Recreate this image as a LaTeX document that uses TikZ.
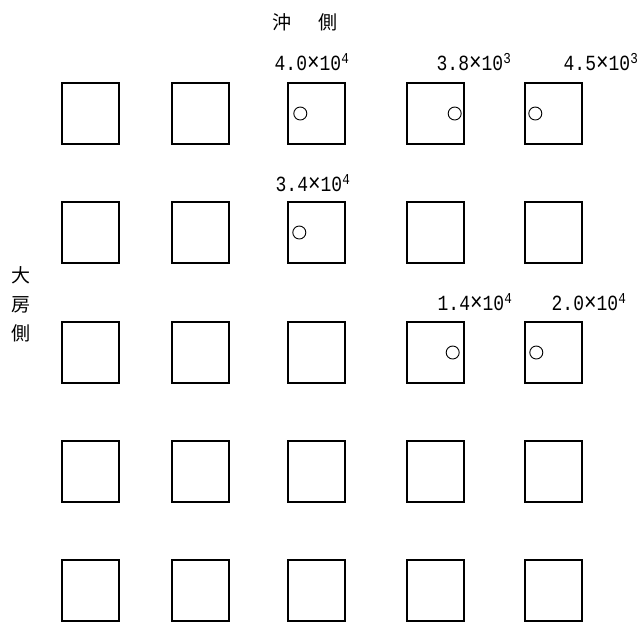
\documentclass[tikz,border=0pt]{standalone}
\usepackage{fontspec}
\usepackage{tikz}
\usetikzlibrary{positioning}
\setmonofont{Liberation Mono}
\newfontfamily\jpfont{Noto Sans CJK JP}
\newcommand{\cnt}[2]{\scalebox{1}[1.2]{#1{\fontsize{21}{21}\selectfont×}10\textsuperscript{#2}}}

\begin{document}
\begin{tikzpicture}[x=1pt, y=-1pt,
  cell/.style={draw, line width=1.4pt, minimum width=57pt, minimum height=61pt, inner sep=0pt},
  hit/.style={draw, circle, line width=0.9pt, minimum size=13pt, inner sep=0pt},
  count/.style={font=\ttfamily\fontsize{18}{18}\selectfont, inner sep=0pt},
  side/.style={font=\jpfont\fontsize{19}{29}\selectfont, inner sep=0pt, align=center}
]
\useasboundingbox (0,0) rectangle (643,624);

% Grid of plates: rows 1..5 (offshore to inshore), columns 1..5
\foreach \r/\y in {1/113.5, 2/232.5, 3/352.5, 4/471.5, 5/590.5}
  \foreach \c/\x in {1/90.5, 2/200.5, 3/316.5, 4/435.5, 5/553.5}
    \node[cell] (c-\r-\c) at (\x,\y) {};

% Side labels
\node[side] (offshore) at (305,22) {沖\hspace{27pt}側};
\node[side] (oofusa) at (21,304) {大\\房\\側};

% Marked plates
\node[hit] (h-1-3) at ([xshift=13pt]c-1-3.west) {};
\node[hit] (h-1-4) at ([xshift=-10pt]c-1-4.east) {};
\node[hit] (h-1-5) at ([xshift=11pt]c-1-5.west) {};
\node[hit] (h-2-3) at ([xshift=12pt]c-2-3.west) {};
\node[hit] (h-3-4) at ([xshift=-12pt]c-3-4.east) {};
\node[hit] (h-3-5) at ([xshift=12pt]c-3-5.west) {};

% Counts
\node[count] (n-1-3) at (312,62) {\cnt{4.0}{4}};
\node[count] (n-1-4) at (474,62) {\cnt{3.8}{3}};
\node[count] (n-1-5) at (601,62) {\cnt{4.5}{3}};
\node[count] (n-2-3) at (313,183) {\cnt{3.4}{4}};
\node[count] (n-3-4) at (475,302) {\cnt{1.4}{4}};
\node[count] (n-3-5) at (589,302) {\cnt{2.0}{4}};
\end{tikzpicture}
\end{document}
